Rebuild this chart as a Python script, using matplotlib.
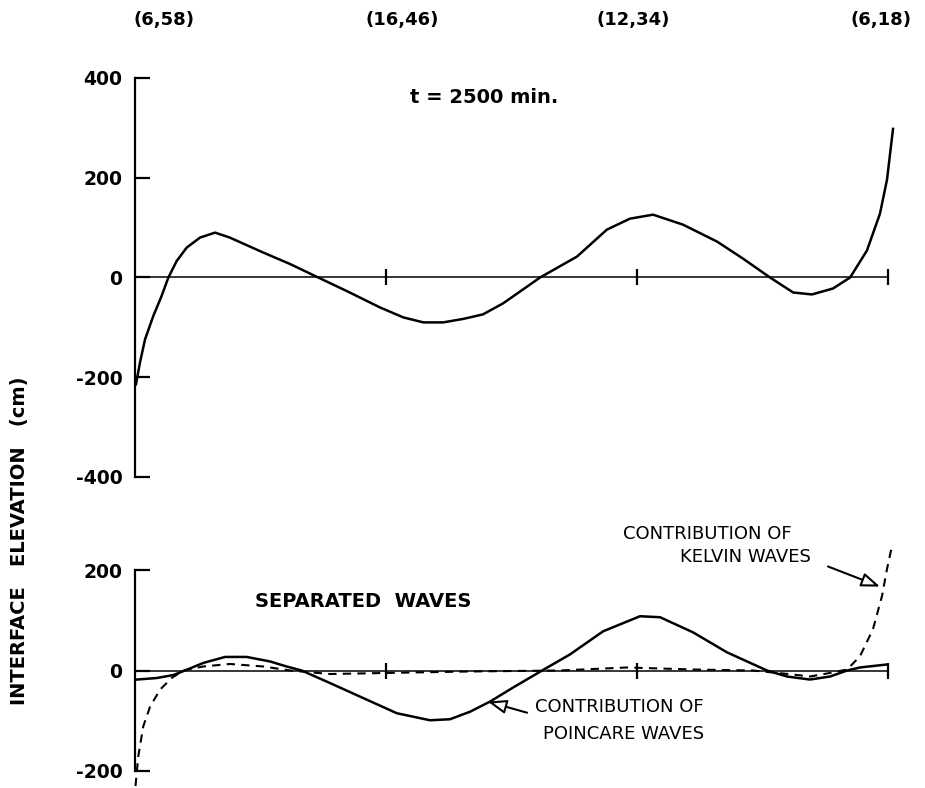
import matplotlib
matplotlib.use("Agg")
import matplotlib.pyplot as plt
import numpy as np

# stations along the section (grid points), x = station index
stations = ["(6,58)", "(16,46)", "(12,34)", "(6,18)"]

# total interface elevation at t = 2500 min (cm)
x_total = [0.004, 0.020, 0.040, 0.073, 0.106, 0.133, 0.166, 0.206, 0.259, 0.319,
           0.378, 0.511, 0.618, 0.730, 0.843, 0.976, 1.069, 1.149, 1.228, 1.308,
           1.386, 1.466, 1.614, 1.761, 1.880, 1.972, 2.064, 2.183, 2.319, 2.422,
           2.530, 2.622, 2.697, 2.781, 2.849, 2.916, 2.968, 2.996, 3.020]
y_total = [-214, -170, -124, -77, -37, 0, 33, 60, 80, 90,
           80, 50, 27, 0, -27, -60, -80, -90, -90, -83,
           -74, -52, 0, 42, 96, 118, 126, 106, 72, 38,
           0, -30, -34, -22, 0, 54, 128, 196, 298]

# poincare wave contribution (cm)
x_poinc = [0.007, 0.086, 0.153, 0.199, 0.272, 0.359, 0.445, 0.538, 0.604, 0.664,
           0.777, 0.910, 1.043, 1.175, 1.255, 1.335, 1.414, 1.506, 1.622, 1.733,
           1.865, 2.012, 2.092, 2.223, 2.359, 2.518, 2.598, 2.689, 2.769, 2.837,
           2.888, 2.996]
y_poinc = [-18, -15, -9, 0, 15, 27, 27, 18, 8, 0,
           -25, -55, -85, -99, -97, -82, -62, -34, 0, 32,
           78, 108, 106, 76, 36, 0, -12, -18, -12, 0,
           6, 12]

# kelvin wave contribution (cm)
x_kelv = [0.002, 0.013, 0.033, 0.060, 0.100, 0.146, 0.192, 0.272, 0.378, 0.511,
          0.618, 0.777, 0.988, 1.323, 1.693, 1.960, 2.223, 2.462, 2.622, 2.689,
          2.757, 2.837, 2.888, 2.940, 2.976, 2.996, 3.016]
y_kelv = [-230, -171, -111, -72, -38, -15, 0, 8, 13, 8,
          0, -7, -5, -2, 0, 6, 2, 0, -8, -12,
          -6, 2, 28, 82, 148, 202, 248]

top_yticks = [-400, -200, 0, 200, 400]
bot_yticks = [-200, 0, 200]

W, H = 925, 788
fig = plt.figure(figsize=(W / 100, H / 100), dpi=100)

ax1 = fig.add_axes([135 / W, 1 - 477 / H, 753 / W, 399 / H])
ax2 = fig.add_axes([135 / W, 1 - 771 / H, 753 / W, 201 / H])


def setup(ax, yt):
    ax.set_xlim(0, 3)
    ax.set_ylim(yt[0], yt[-1])
    ax.spines["top"].set_visible(False)
    ax.spines["right"].set_visible(False)
    ax.spines["left"].set_linewidth(1.6)
    ax.spines["bottom"].set_position(("data", 0))
    ax.spines["bottom"].set_linewidth(1.1)
    ax.set_yticks(yt)
    ax.set_yticklabels([str(v) if v >= 0 else "-" + str(-v) for v in yt])
    ax.tick_params(axis="y", direction="in", length=11, width=1.6, pad=9,
                   labelsize=13.5)
    for lab in ax.get_yticklabels():
        lab.set_fontweight("bold")
    ax.set_xticks([1, 2, 3])
    ax.tick_params(axis="x", direction="inout", length=12, width=1.6,
                   labelbottom=False)
    ax.patch.set_alpha(0)


setup(ax1, top_yticks)
setup(ax2, bot_yticks)

ax1.plot(x_total, y_total, color="black", lw=1.8, clip_on=False,
         solid_joinstyle="round")

ax2.plot(x_poinc, y_poinc, color="black", lw=1.8, clip_on=False,
         solid_joinstyle="round")
ax2.plot(x_kelv, y_kelv, color="black", lw=1.5, ls=(0, (4, 3)), clip_on=False)

# station labels above the top panel
nudge = [21, 12, -3, -5]
for i, s in enumerate(stations):
    ax1.annotate(s, xy=(i, 1), xycoords=("data", "axes fraction"),
                 xytext=(nudge[i], 42), textcoords="offset points",
                 ha="center", va="center", fontsize=13, fontweight="bold")

ax1.text(1.096, 360, "t = 2500 min.", fontsize=14, fontweight="bold",
         va="center", ha="left")

ax2.text(0.478, 137, "SEPARATED  WAVES", fontsize=14, fontweight="bold",
         va="center", ha="left")

ax2.text(1.944, 271, "CONTRIBUTION OF", fontsize=13, va="center", ha="left")
ax2.text(2.171, 225, "KELVIN WAVES", fontsize=13, va="center", ha="left")
ax2.text(1.594, -72, "CONTRIBUTION OF", fontsize=13, va="center", ha="left")
ax2.text(1.625, -127, "POINCARE WAVES", fontsize=13, va="center", ha="left")

arrow = dict(arrowstyle="-|>,head_length=0.8,head_width=0.3", fc="white",
             ec="black", lw=1.5, mutation_scale=14, shrinkA=0, shrinkB=0)
ax2.annotate("", xy=(2.968, 167), xytext=(2.761, 207), arrowprops=arrow,
             annotation_clip=False)
ax2.annotate("", xy=(1.406, -62), xytext=(1.562, -84), arrowprops=arrow,
             annotation_clip=False)

fig.text(20 / W, 1 - 541 / H, "INTERFACE   ELEVATION   (cm)", rotation=90,
         ha="center", va="center", fontsize=14, fontweight="bold")

fig.savefig("out.png", dpi=100)
